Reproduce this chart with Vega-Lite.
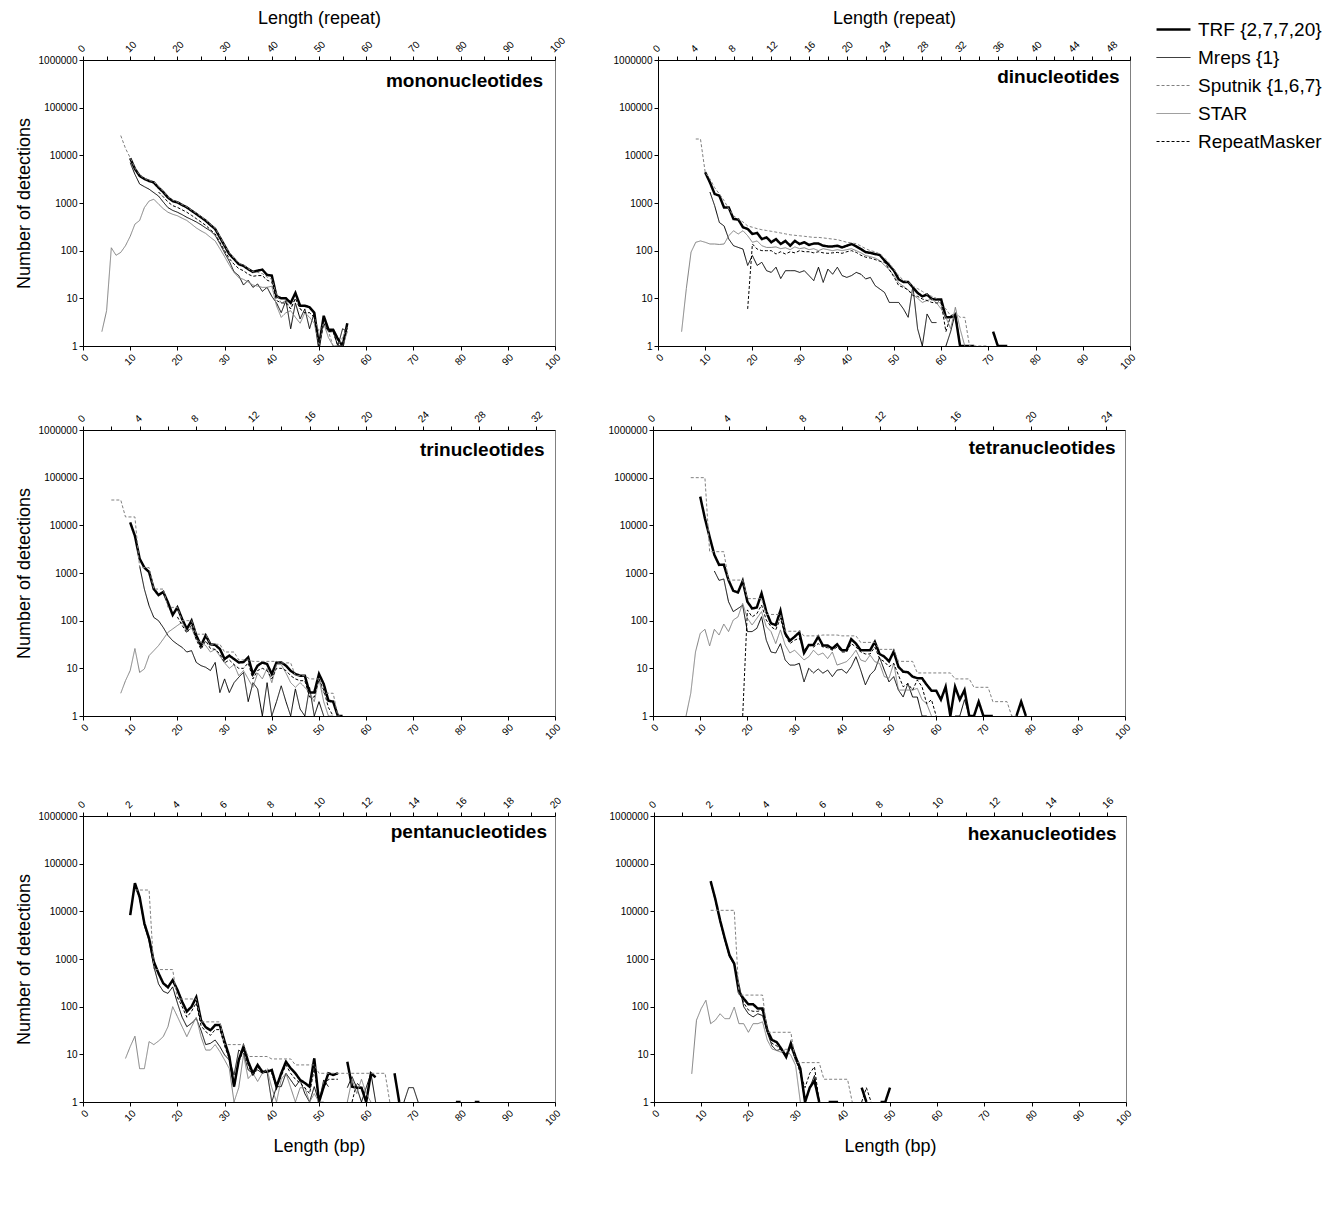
{
  "$schema": "https://vega.github.io/schema/vega-lite/v6.json",
  "background": "white",
  "padding": {"left": 14, "top": 8, "right": 5, "bottom": 5},
  "datasets": {
    "mono": [
      {"tool":"TRF","bp":10,"n":8700},{"tool":"TRF","bp":11,"n":5200},{"tool":"TRF","bp":12,"n":3700},{"tool":"TRF","bp":13,"n":3200},{"tool":"TRF","bp":14,"n":2900},{"tool":"TRF","bp":15,"n":2700},{"tool":"TRF","bp":16,"n":2100},{"tool":"TRF","bp":17,"n":1700},{"tool":"TRF","bp":18,"n":1300},{"tool":"TRF","bp":19,"n":1100},{"tool":"TRF","bp":20,"n":1030},{"tool":"TRF","bp":21,"n":910},{"tool":"TRF","bp":22,"n":810},{"tool":"TRF","bp":23,"n":690},{"tool":"TRF","bp":24,"n":590},{"tool":"TRF","bp":25,"n":500},{"tool":"TRF","bp":26,"n":425},{"tool":"TRF","bp":27,"n":345},{"tool":"TRF","bp":28,"n":285},{"tool":"TRF","bp":29,"n":190},{"tool":"TRF","bp":30,"n":127},{"tool":"TRF","bp":31,"n":85},{"tool":"TRF","bp":32,"n":67},{"tool":"TRF","bp":33,"n":52},{"tool":"TRF","bp":34,"n":48},{"tool":"TRF","bp":35,"n":41},{"tool":"TRF","bp":36,"n":36},{"tool":"TRF","bp":37,"n":38},{"tool":"TRF","bp":38,"n":40},{"tool":"TRF","bp":39,"n":31},{"tool":"TRF","bp":40,"n":30},{"tool":"TRF","bp":41,"n":11},{"tool":"TRF","bp":42,"n":10},{"tool":"TRF","bp":43,"n":10},{"tool":"TRF","bp":44,"n":8},{"tool":"TRF","bp":45,"n":13},{"tool":"TRF","bp":46,"n":7},{"tool":"TRF","bp":47,"n":7},{"tool":"TRF","bp":48,"n":6.5},{"tool":"TRF","bp":49,"n":5},{"tool":"TRF","bp":50,"n":1},{"tool":"TRF","bp":51,"n":4.3},{"tool":"TRF","bp":52,"n":2.2},{"tool":"TRF","bp":53,"n":2.2},{"tool":"TRF","bp":54,"n":1.4},{"tool":"TRF","bp":55,"n":1},{"tool":"TRF","bp":56,"n":3},
      {"tool":"Mreps","bp":10,"n":7000},{"tool":"Mreps","bp":11,"n":4000},{"tool":"Mreps","bp":12,"n":2500},{"tool":"Mreps","bp":13,"n":2200},{"tool":"Mreps","bp":14,"n":1950},{"tool":"Mreps","bp":15,"n":1650},{"tool":"Mreps","bp":16,"n":1400},{"tool":"Mreps","bp":17,"n":1050},{"tool":"Mreps","bp":18,"n":800},{"tool":"Mreps","bp":19,"n":700},{"tool":"Mreps","bp":20,"n":640},{"tool":"Mreps","bp":21,"n":570},{"tool":"Mreps","bp":22,"n":500},{"tool":"Mreps","bp":23,"n":450},{"tool":"Mreps","bp":24,"n":400},{"tool":"Mreps","bp":25,"n":350},{"tool":"Mreps","bp":26,"n":300},{"tool":"Mreps","bp":27,"n":260},{"tool":"Mreps","bp":28,"n":210},{"tool":"Mreps","bp":29,"n":140},{"tool":"Mreps","bp":30,"n":90},{"tool":"Mreps","bp":31,"n":60},{"tool":"Mreps","bp":32,"n":36},{"tool":"Mreps","bp":33,"n":30},{"tool":"Mreps","bp":34,"n":19},{"tool":"Mreps","bp":35,"n":24},{"tool":"Mreps","bp":36,"n":17},{"tool":"Mreps","bp":37,"n":20},{"tool":"Mreps","bp":38,"n":14},{"tool":"Mreps","bp":39,"n":17},{"tool":"Mreps","bp":40,"n":11},{"tool":"Mreps","bp":41,"n":8},{"tool":"Mreps","bp":42,"n":5},{"tool":"Mreps","bp":43,"n":9},{"tool":"Mreps","bp":44,"n":2.3},{"tool":"Mreps","bp":45,"n":8},{"tool":"Mreps","bp":46,"n":3.7},{"tool":"Mreps","bp":47,"n":6},{"tool":"Mreps","bp":48,"n":2.3},{"tool":"Mreps","bp":49,"n":5},{"tool":"Mreps","bp":50,"n":1},{"tool":"Mreps","bp":51,"n":4},{"tool":"Mreps","bp":52,"n":2},{"tool":"Mreps","bp":53,"n":2},{"tool":"Mreps","bp":54,"n":1},{"tool":"Mreps","bp":55,"n":2.3},{"tool":"Mreps","bp":56,"n":2},
      {"tool":"Sputnik","bp":8,"n":26000},{"tool":"Sputnik","bp":9,"n":14000},{"tool":"Sputnik","bp":10,"n":8900},{"tool":"Sputnik","bp":11,"n":5400},{"tool":"Sputnik","bp":12,"n":3900},{"tool":"Sputnik","bp":13,"n":3300},{"tool":"Sputnik","bp":14,"n":3000},{"tool":"Sputnik","bp":15,"n":2800},{"tool":"Sputnik","bp":16,"n":2200},{"tool":"Sputnik","bp":17,"n":1750},{"tool":"Sputnik","bp":18,"n":1350},{"tool":"Sputnik","bp":19,"n":1150},{"tool":"Sputnik","bp":20,"n":1050},{"tool":"Sputnik","bp":21,"n":930},{"tool":"Sputnik","bp":22,"n":830},{"tool":"Sputnik","bp":23,"n":710},{"tool":"Sputnik","bp":24,"n":610},{"tool":"Sputnik","bp":25,"n":520},{"tool":"Sputnik","bp":26,"n":440},{"tool":"Sputnik","bp":27,"n":355},{"tool":"Sputnik","bp":28,"n":295},{"tool":"Sputnik","bp":29,"n":200},{"tool":"Sputnik","bp":30,"n":130},{"tool":"Sputnik","bp":31,"n":90},{"tool":"Sputnik","bp":32,"n":70},{"tool":"Sputnik","bp":33,"n":55},{"tool":"Sputnik","bp":34,"n":50},{"tool":"Sputnik","bp":35,"n":42},{"tool":"Sputnik","bp":36,"n":36},{"tool":"Sputnik","bp":37,"n":35},{"tool":"Sputnik","bp":38,"n":33},{"tool":"Sputnik","bp":39,"n":28},{"tool":"Sputnik","bp":40,"n":25},{"tool":"Sputnik","bp":41,"n":12},{"tool":"Sputnik","bp":42,"n":8},{"tool":"Sputnik","bp":43,"n":9},{"tool":"Sputnik","bp":44,"n":6},{"tool":"Sputnik","bp":45,"n":10},{"tool":"Sputnik","bp":46,"n":6},{"tool":"Sputnik","bp":47,"n":5},{"tool":"Sputnik","bp":48,"n":5},{"tool":"Sputnik","bp":49,"n":4},{"tool":"Sputnik","bp":50,"n":2},{"tool":"Sputnik","bp":51,"n":3},{"tool":"Sputnik","bp":52,"n":2},{"tool":"Sputnik","bp":53,"n":1},{"tool":"Sputnik","bp":54,"n":1},{"tool":"Sputnik","bp":55,"n":1.5},{"tool":"Sputnik","bp":56,"n":2.5},
      {"tool":"STAR","bp":4,"n":2},{"tool":"STAR","bp":5,"n":5.5},{"tool":"STAR","bp":6,"n":115},{"tool":"STAR","bp":7,"n":80},{"tool":"STAR","bp":8,"n":92},{"tool":"STAR","bp":9,"n":127},{"tool":"STAR","bp":10,"n":200},{"tool":"STAR","bp":11,"n":360},{"tool":"STAR","bp":12,"n":430},{"tool":"STAR","bp":13,"n":800},{"tool":"STAR","bp":14,"n":1100},{"tool":"STAR","bp":15,"n":1200},{"tool":"STAR","bp":16,"n":950},{"tool":"STAR","bp":17,"n":760},{"tool":"STAR","bp":18,"n":640},{"tool":"STAR","bp":19,"n":580},{"tool":"STAR","bp":20,"n":540},{"tool":"STAR","bp":21,"n":480},{"tool":"STAR","bp":22,"n":430},{"tool":"STAR","bp":23,"n":360},{"tool":"STAR","bp":24,"n":300},{"tool":"STAR","bp":25,"n":260},{"tool":"STAR","bp":26,"n":230},{"tool":"STAR","bp":27,"n":190},{"tool":"STAR","bp":28,"n":160},{"tool":"STAR","bp":29,"n":110},{"tool":"STAR","bp":30,"n":75},{"tool":"STAR","bp":31,"n":50},{"tool":"STAR","bp":32,"n":35},{"tool":"STAR","bp":33,"n":27},{"tool":"STAR","bp":34,"n":25},{"tool":"STAR","bp":35,"n":22},{"tool":"STAR","bp":36,"n":19},{"tool":"STAR","bp":37,"n":18},{"tool":"STAR","bp":38,"n":17},{"tool":"STAR","bp":39,"n":17},{"tool":"STAR","bp":40,"n":18},{"tool":"STAR","bp":41,"n":7},{"tool":"STAR","bp":42,"n":4},{"tool":"STAR","bp":43,"n":5},{"tool":"STAR","bp":44,"n":5.5},{"tool":"STAR","bp":45,"n":4},{"tool":"STAR","bp":46,"n":3},{"tool":"STAR","bp":47,"n":5},{"tool":"STAR","bp":48,"n":4},{"tool":"STAR","bp":49,"n":3},{"tool":"STAR","bp":50,"n":1},{"tool":"STAR","bp":51,"n":3},{"tool":"STAR","bp":52,"n":1.5},{"tool":"STAR","bp":53,"n":1},{"tool":"STAR","bp":54,"n":1},{"tool":"STAR","bp":55,"n":1},{"tool":"STAR","bp":56,"n":2},
      {"tool":"RM","bp":16,"n":1700},{"tool":"RM","bp":17,"n":1350},{"tool":"RM","bp":18,"n":1050},{"tool":"RM","bp":19,"n":880},{"tool":"RM","bp":20,"n":810},{"tool":"RM","bp":21,"n":720},{"tool":"RM","bp":22,"n":640},{"tool":"RM","bp":23,"n":550},{"tool":"RM","bp":24,"n":470},{"tool":"RM","bp":25,"n":400},{"tool":"RM","bp":26,"n":340},{"tool":"RM","bp":27,"n":275},{"tool":"RM","bp":28,"n":225},{"tool":"RM","bp":29,"n":150},{"tool":"RM","bp":30,"n":100},{"tool":"RM","bp":31,"n":68},{"tool":"RM","bp":32,"n":52},{"tool":"RM","bp":33,"n":42},{"tool":"RM","bp":34,"n":38},{"tool":"RM","bp":35,"n":32},{"tool":"RM","bp":36,"n":29},{"tool":"RM","bp":37,"n":30},{"tool":"RM","bp":38,"n":30},{"tool":"RM","bp":39,"n":24},{"tool":"RM","bp":40,"n":22},{"tool":"RM","bp":41,"n":9},{"tool":"RM","bp":42,"n":8},{"tool":"RM","bp":43,"n":8},{"tool":"RM","bp":44,"n":6},{"tool":"RM","bp":45,"n":10},{"tool":"RM","bp":46,"n":6},{"tool":"RM","bp":47,"n":5},{"tool":"RM","bp":48,"n":5},{"tool":"RM","bp":49,"n":4},{"tool":"RM","bp":50,"n":1},{"tool":"RM","bp":51,"n":3},{"tool":"RM","bp":52,"n":2},{"tool":"RM","bp":53,"n":2},{"tool":"RM","bp":54,"n":1},{"tool":"RM","bp":55,"n":1},{"tool":"RM","bp":56,"n":2.5}
    ],
    "di": [
      {"tool":"TRF","bp":10,"n":4400},{"tool":"TRF","bp":11,"n":2700},{"tool":"TRF","bp":12,"n":1550},{"tool":"TRF","bp":13,"n":1420},{"tool":"TRF","bp":14,"n":800},{"tool":"TRF","bp":15,"n":800},{"tool":"TRF","bp":16,"n":460},{"tool":"TRF","bp":17,"n":450},{"tool":"TRF","bp":18,"n":310},{"tool":"TRF","bp":19,"n":285},{"tool":"TRF","bp":20,"n":224},{"tool":"TRF","bp":21,"n":235},{"tool":"TRF","bp":22,"n":175},{"tool":"TRF","bp":23,"n":190},{"tool":"TRF","bp":24,"n":150},{"tool":"TRF","bp":25,"n":175},{"tool":"TRF","bp":26,"n":138},{"tool":"TRF","bp":27,"n":160},{"tool":"TRF","bp":28,"n":127},{"tool":"TRF","bp":29,"n":160},{"tool":"TRF","bp":30,"n":138},{"tool":"TRF","bp":31,"n":150},{"tool":"TRF","bp":32,"n":132},{"tool":"TRF","bp":33,"n":141},{"tool":"TRF","bp":34,"n":141},{"tool":"TRF","bp":35,"n":127},{"tool":"TRF","bp":36,"n":123},{"tool":"TRF","bp":37,"n":123},{"tool":"TRF","bp":38,"n":127},{"tool":"TRF","bp":39,"n":117},{"tool":"TRF","bp":40,"n":127},{"tool":"TRF","bp":41,"n":138},{"tool":"TRF","bp":42,"n":123},{"tool":"TRF","bp":43,"n":108},{"tool":"TRF","bp":44,"n":93},{"tool":"TRF","bp":45,"n":90},{"tool":"TRF","bp":46,"n":85},{"tool":"TRF","bp":47,"n":81},{"tool":"TRF","bp":48,"n":62},{"tool":"TRF","bp":49,"n":49},{"tool":"TRF","bp":50,"n":38},{"tool":"TRF","bp":51,"n":25},{"tool":"TRF","bp":52,"n":22},{"tool":"TRF","bp":53,"n":22},{"tool":"TRF","bp":54,"n":17},{"tool":"TRF","bp":55,"n":13},{"tool":"TRF","bp":56,"n":11},{"tool":"TRF","bp":57,"n":12},{"tool":"TRF","bp":58,"n":9.7},{"tool":"TRF","bp":59,"n":9.4},{"tool":"TRF","bp":60,"n":9.4},{"tool":"TRF","bp":61,"n":4},{"tool":"TRF","bp":62,"n":4},{"tool":"TRF","bp":63,"n":4.3},{"tool":"TRF","bp":64,"n":1},{"tool":"TRF","bp":65,"n":1},{"tool":"TRF","bp":66,"n":1},{"tool":"TRF","bp":67,"n":1},{"tool":"TRF","bp":68,"n":null},{"tool":"TRF","bp":71,"n":2},{"tool":"TRF","bp":72,"n":1},{"tool":"TRF","bp":73,"n":1},{"tool":"TRF","bp":74,"n":1},
      {"tool":"Mreps","bp":11,"n":1700},{"tool":"Mreps","bp":12,"n":880},{"tool":"Mreps","bp":13,"n":390},{"tool":"Mreps","bp":14,"n":330},{"tool":"Mreps","bp":15,"n":175},{"tool":"Mreps","bp":16,"n":127},{"tool":"Mreps","bp":17,"n":117},{"tool":"Mreps","bp":18,"n":108},{"tool":"Mreps","bp":19,"n":49},{"tool":"Mreps","bp":20,"n":79},{"tool":"Mreps","bp":21,"n":49},{"tool":"Mreps","bp":22,"n":57},{"tool":"Mreps","bp":23,"n":38},{"tool":"Mreps","bp":24,"n":35},{"tool":"Mreps","bp":25,"n":45},{"tool":"Mreps","bp":26,"n":26},{"tool":"Mreps","bp":27,"n":38},{"tool":"Mreps","bp":28,"n":38},{"tool":"Mreps","bp":29,"n":38},{"tool":"Mreps","bp":30,"n":35},{"tool":"Mreps","bp":31,"n":38},{"tool":"Mreps","bp":32,"n":30},{"tool":"Mreps","bp":33,"n":23.5},{"tool":"Mreps","bp":34,"n":45},{"tool":"Mreps","bp":35,"n":21.6},{"tool":"Mreps","bp":36,"n":41},{"tool":"Mreps","bp":37,"n":32},{"tool":"Mreps","bp":38,"n":45},{"tool":"Mreps","bp":39,"n":30},{"tool":"Mreps","bp":40,"n":27.5},{"tool":"Mreps","bp":41,"n":30},{"tool":"Mreps","bp":42,"n":35},{"tool":"Mreps","bp":43,"n":32},{"tool":"Mreps","bp":44,"n":25.5},{"tool":"Mreps","bp":45,"n":27.5},{"tool":"Mreps","bp":46,"n":18.5},{"tool":"Mreps","bp":47,"n":15.7},{"tool":"Mreps","bp":48,"n":13.3},{"tool":"Mreps","bp":49,"n":8.2},{"tool":"Mreps","bp":50,"n":8.2},{"tool":"Mreps","bp":51,"n":8.2},{"tool":"Mreps","bp":52,"n":6},{"tool":"Mreps","bp":53,"n":4},{"tool":"Mreps","bp":54,"n":18},{"tool":"Mreps","bp":55,"n":2.3},{"tool":"Mreps","bp":56,"n":1},{"tool":"Mreps","bp":57,"n":4.7},{"tool":"Mreps","bp":58,"n":3.1},{"tool":"Mreps","bp":59,"n":3.1},{"tool":"Mreps","bp":60,"n":null},{"tool":"Mreps","bp":61,"n":1},{"tool":"Mreps","bp":62,"n":2},{"tool":"Mreps","bp":63,"n":5},{"tool":"Mreps","bp":64,"n":1},
      {"tool":"Sputnik","bp":8,"n":22000},{"tool":"Sputnik","bp":9,"n":22000},{"tool":"Sputnik","bp":10,"n":4400},{"tool":"Sputnik","bp":11,"n":3200},{"tool":"Sputnik","bp":12,"n":2100},{"tool":"Sputnik","bp":13,"n":1550},{"tool":"Sputnik","bp":14,"n":1120},{"tool":"Sputnik","bp":15,"n":750},{"tool":"Sputnik","bp":16,"n":540},{"tool":"Sputnik","bp":17,"n":460},{"tool":"Sputnik","bp":18,"n":400},{"tool":"Sputnik","bp":19,"n":330},{"tool":"Sputnik","bp":20,"n":310},{"tool":"Sputnik","bp":21,"n":290},{"tool":"Sputnik","bp":22,"n":275},{"tool":"Sputnik","bp":23,"n":265},{"tool":"Sputnik","bp":24,"n":255},{"tool":"Sputnik","bp":25,"n":245},{"tool":"Sputnik","bp":26,"n":235},{"tool":"Sputnik","bp":27,"n":225},{"tool":"Sputnik","bp":28,"n":215},{"tool":"Sputnik","bp":29,"n":210},{"tool":"Sputnik","bp":30,"n":205},{"tool":"Sputnik","bp":31,"n":200},{"tool":"Sputnik","bp":32,"n":195},{"tool":"Sputnik","bp":33,"n":190},{"tool":"Sputnik","bp":34,"n":190},{"tool":"Sputnik","bp":35,"n":185},{"tool":"Sputnik","bp":36,"n":180},{"tool":"Sputnik","bp":37,"n":175},{"tool":"Sputnik","bp":38,"n":170},{"tool":"Sputnik","bp":39,"n":160},{"tool":"Sputnik","bp":40,"n":150},{"tool":"Sputnik","bp":41,"n":145},{"tool":"Sputnik","bp":42,"n":140},{"tool":"Sputnik","bp":43,"n":125},{"tool":"Sputnik","bp":44,"n":110},{"tool":"Sputnik","bp":45,"n":100},{"tool":"Sputnik","bp":46,"n":95},{"tool":"Sputnik","bp":47,"n":85},{"tool":"Sputnik","bp":48,"n":70},{"tool":"Sputnik","bp":49,"n":55},{"tool":"Sputnik","bp":50,"n":40},{"tool":"Sputnik","bp":51,"n":30},{"tool":"Sputnik","bp":52,"n":24},{"tool":"Sputnik","bp":53,"n":22},{"tool":"Sputnik","bp":54,"n":18},{"tool":"Sputnik","bp":55,"n":16},{"tool":"Sputnik","bp":56,"n":14},{"tool":"Sputnik","bp":57,"n":12},{"tool":"Sputnik","bp":58,"n":11},{"tool":"Sputnik","bp":59,"n":10},{"tool":"Sputnik","bp":60,"n":7},{"tool":"Sputnik","bp":61,"n":6},{"tool":"Sputnik","bp":62,"n":4.3},{"tool":"Sputnik","bp":63,"n":5},{"tool":"Sputnik","bp":64,"n":4},{"tool":"Sputnik","bp":65,"n":4},{"tool":"Sputnik","bp":66,"n":1},{"tool":"Sputnik","bp":70,"n":1},
      {"tool":"STAR","bp":5,"n":2},{"tool":"STAR","bp":6,"n":16},{"tool":"STAR","bp":7,"n":93},{"tool":"STAR","bp":8,"n":150},{"tool":"STAR","bp":9,"n":160},{"tool":"STAR","bp":10,"n":150},{"tool":"STAR","bp":11,"n":138},{"tool":"STAR","bp":12,"n":138},{"tool":"STAR","bp":13,"n":135},{"tool":"STAR","bp":14,"n":138},{"tool":"STAR","bp":15,"n":206},{"tool":"STAR","bp":16,"n":262},{"tool":"STAR","bp":17,"n":224},{"tool":"STAR","bp":18,"n":262},{"tool":"STAR","bp":19,"n":206},{"tool":"STAR","bp":20,"n":150},{"tool":"STAR","bp":21,"n":160},{"tool":"STAR","bp":22,"n":127},{"tool":"STAR","bp":23,"n":117},{"tool":"STAR","bp":24,"n":117},{"tool":"STAR","bp":25,"n":120},{"tool":"STAR","bp":26,"n":110},{"tool":"STAR","bp":27,"n":115},{"tool":"STAR","bp":28,"n":105},{"tool":"STAR","bp":29,"n":120},{"tool":"STAR","bp":30,"n":110},{"tool":"STAR","bp":31,"n":115},{"tool":"STAR","bp":32,"n":105},{"tool":"STAR","bp":33,"n":110},{"tool":"STAR","bp":34,"n":100},{"tool":"STAR","bp":35,"n":110},{"tool":"STAR","bp":36,"n":105},{"tool":"STAR","bp":37,"n":100},{"tool":"STAR","bp":38,"n":105},{"tool":"STAR","bp":39,"n":100},{"tool":"STAR","bp":40,"n":105},{"tool":"STAR","bp":41,"n":110},{"tool":"STAR","bp":42,"n":100},{"tool":"STAR","bp":43,"n":90},{"tool":"STAR","bp":44,"n":79},{"tool":"STAR","bp":45,"n":75},{"tool":"STAR","bp":46,"n":70},{"tool":"STAR","bp":47,"n":62},{"tool":"STAR","bp":48,"n":49},{"tool":"STAR","bp":49,"n":40},{"tool":"STAR","bp":50,"n":30},{"tool":"STAR","bp":51,"n":21},{"tool":"STAR","bp":52,"n":18},{"tool":"STAR","bp":53,"n":15},{"tool":"STAR","bp":54,"n":12},{"tool":"STAR","bp":55,"n":10},{"tool":"STAR","bp":56,"n":8.2},{"tool":"STAR","bp":57,"n":9},{"tool":"STAR","bp":58,"n":9.7},{"tool":"STAR","bp":59,"n":8},{"tool":"STAR","bp":60,"n":6},{"tool":"STAR","bp":61,"n":4},{"tool":"STAR","bp":62,"n":2.3},{"tool":"STAR","bp":63,"n":6.5},{"tool":"STAR","bp":64,"n":2.3},{"tool":"STAR","bp":65,"n":1},
      {"tool":"RM","bp":19,"n":6},{"tool":"RM","bp":20,"n":138},{"tool":"RM","bp":21,"n":108},{"tool":"RM","bp":22,"n":100},{"tool":"RM","bp":23,"n":100},{"tool":"RM","bp":24,"n":100},{"tool":"RM","bp":25,"n":85},{"tool":"RM","bp":26,"n":95},{"tool":"RM","bp":27,"n":85},{"tool":"RM","bp":28,"n":95},{"tool":"RM","bp":29,"n":90},{"tool":"RM","bp":30,"n":100},{"tool":"RM","bp":31,"n":95},{"tool":"RM","bp":32,"n":95},{"tool":"RM","bp":33,"n":90},{"tool":"RM","bp":34,"n":95},{"tool":"RM","bp":35,"n":90},{"tool":"RM","bp":36,"n":88},{"tool":"RM","bp":37,"n":90},{"tool":"RM","bp":38,"n":92},{"tool":"RM","bp":39,"n":88},{"tool":"RM","bp":40,"n":95},{"tool":"RM","bp":41,"n":100},{"tool":"RM","bp":42,"n":92},{"tool":"RM","bp":43,"n":80},{"tool":"RM","bp":44,"n":73},{"tool":"RM","bp":45,"n":70},{"tool":"RM","bp":46,"n":65},{"tool":"RM","bp":47,"n":60},{"tool":"RM","bp":48,"n":57},{"tool":"RM","bp":49,"n":40},{"tool":"RM","bp":50,"n":28},{"tool":"RM","bp":51,"n":18.5},{"tool":"RM","bp":52,"n":17},{"tool":"RM","bp":53,"n":15},{"tool":"RM","bp":54,"n":11.4},{"tool":"RM","bp":55,"n":11},{"tool":"RM","bp":56,"n":9.7},{"tool":"RM","bp":57,"n":9},{"tool":"RM","bp":58,"n":8.2},{"tool":"RM","bp":59,"n":8},{"tool":"RM","bp":60,"n":8},{"tool":"RM","bp":61,"n":2},{"tool":"RM","bp":62,"n":4.3},{"tool":"RM","bp":63,"n":4.7},{"tool":"RM","bp":64,"n":1}
    ],
    "tri": [
      {"tool":"TRF","bp":10,"n":11500},{"tool":"TRF","bp":11,"n":6000},{"tool":"TRF","bp":12,"n":2000},{"tool":"TRF","bp":13,"n":1300},{"tool":"TRF","bp":14,"n":1050},{"tool":"TRF","bp":15,"n":460},{"tool":"TRF","bp":16,"n":345},{"tool":"TRF","bp":17,"n":400},{"tool":"TRF","bp":18,"n":240},{"tool":"TRF","bp":19,"n":132},{"tool":"TRF","bp":20,"n":190},{"tool":"TRF","bp":21,"n":108},{"tool":"TRF","bp":22,"n":67},{"tool":"TRF","bp":23,"n":100},{"tool":"TRF","bp":24,"n":49},{"tool":"TRF","bp":25,"n":30},{"tool":"TRF","bp":26,"n":49},{"tool":"TRF","bp":27,"n":32},{"tool":"TRF","bp":28,"n":31},{"tool":"TRF","bp":29,"n":25.5},{"tool":"TRF","bp":30,"n":15.7},{"tool":"TRF","bp":31,"n":18.5},{"tool":"TRF","bp":32,"n":15.7},{"tool":"TRF","bp":33,"n":13.3},{"tool":"TRF","bp":34,"n":13.5},{"tool":"TRF","bp":35,"n":17},{"tool":"TRF","bp":36,"n":7.6},{"tool":"TRF","bp":37,"n":11.4},{"tool":"TRF","bp":38,"n":13.3},{"tool":"TRF","bp":39,"n":12.3},{"tool":"TRF","bp":40,"n":7.6},{"tool":"TRF","bp":41,"n":13.3},{"tool":"TRF","bp":42,"n":13.3},{"tool":"TRF","bp":43,"n":11.4},{"tool":"TRF","bp":44,"n":8.9},{"tool":"TRF","bp":45,"n":7.6},{"tool":"TRF","bp":46,"n":7},{"tool":"TRF","bp":47,"n":7},{"tool":"TRF","bp":48,"n":3.1},{"tool":"TRF","bp":49,"n":3.1},{"tool":"TRF","bp":50,"n":7.6},{"tool":"TRF","bp":51,"n":4.7},{"tool":"TRF","bp":52,"n":2.1},{"tool":"TRF","bp":53,"n":2},{"tool":"TRF","bp":54,"n":1},{"tool":"TRF","bp":55,"n":1},
      {"tool":"Mreps","bp":12,"n":1400},{"tool":"Mreps","bp":13,"n":460},{"tool":"Mreps","bp":14,"n":205},{"tool":"Mreps","bp":15,"n":117},{"tool":"Mreps","bp":16,"n":100},{"tool":"Mreps","bp":17,"n":72},{"tool":"Mreps","bp":18,"n":49},{"tool":"Mreps","bp":19,"n":38},{"tool":"Mreps","bp":20,"n":32},{"tool":"Mreps","bp":21,"n":27.5},{"tool":"Mreps","bp":22,"n":22},{"tool":"Mreps","bp":23,"n":23.5},{"tool":"Mreps","bp":24,"n":13.3},{"tool":"Mreps","bp":25,"n":11.4},{"tool":"Mreps","bp":26,"n":10.5},{"tool":"Mreps","bp":27,"n":9},{"tool":"Mreps","bp":28,"n":13.3},{"tool":"Mreps","bp":29,"n":3.1},{"tool":"Mreps","bp":30,"n":6},{"tool":"Mreps","bp":31,"n":3.1},{"tool":"Mreps","bp":32,"n":5},{"tool":"Mreps","bp":33,"n":6.5},{"tool":"Mreps","bp":34,"n":8.2},{"tool":"Mreps","bp":35,"n":2},{"tool":"Mreps","bp":36,"n":5},{"tool":"Mreps","bp":37,"n":3.7},{"tool":"Mreps","bp":38,"n":1},{"tool":"Mreps","bp":39,"n":5},{"tool":"Mreps","bp":40,"n":1},{"tool":"Mreps","bp":41,"n":2},{"tool":"Mreps","bp":42,"n":4.3},{"tool":"Mreps","bp":43,"n":2},{"tool":"Mreps","bp":44,"n":1},{"tool":"Mreps","bp":45,"n":3.7},{"tool":"Mreps","bp":46,"n":1.4},{"tool":"Mreps","bp":47,"n":1},{"tool":"Mreps","bp":48,"n":4},{"tool":"Mreps","bp":49,"n":1},{"tool":"Mreps","bp":50,"n":2},{"tool":"Mreps","bp":51,"n":1},
      {"tool":"Sputnik","bp":6,"n":34000},{"tool":"Sputnik","bp":8,"n":34000},{"tool":"Sputnik","bp":9,"n":15000},{"tool":"Sputnik","bp":11,"n":15000},{"tool":"Sputnik","bp":12,"n":1300},{"tool":"Sputnik","bp":14,"n":1300},{"tool":"Sputnik","bp":15,"n":460},{"tool":"Sputnik","bp":17,"n":460},{"tool":"Sputnik","bp":18,"n":190},{"tool":"Sputnik","bp":20,"n":190},{"tool":"Sputnik","bp":21,"n":100},{"tool":"Sputnik","bp":23,"n":100},{"tool":"Sputnik","bp":24,"n":52},{"tool":"Sputnik","bp":26,"n":52},{"tool":"Sputnik","bp":27,"n":32},{"tool":"Sputnik","bp":29,"n":32},{"tool":"Sputnik","bp":30,"n":22},{"tool":"Sputnik","bp":32,"n":22},{"tool":"Sputnik","bp":33,"n":15},{"tool":"Sputnik","bp":35,"n":15},{"tool":"Sputnik","bp":36,"n":14},{"tool":"Sputnik","bp":41,"n":14},{"tool":"Sputnik","bp":42,"n":13},{"tool":"Sputnik","bp":44,"n":13},{"tool":"Sputnik","bp":45,"n":7},{"tool":"Sputnik","bp":47,"n":7},{"tool":"Sputnik","bp":48,"n":6},{"tool":"Sputnik","bp":50,"n":6},{"tool":"Sputnik","bp":51,"n":3},{"tool":"Sputnik","bp":53,"n":3},{"tool":"Sputnik","bp":54,"n":1},{"tool":"Sputnik","bp":55,"n":1},
      {"tool":"STAR","bp":8,"n":3},{"tool":"STAR","bp":9,"n":5.5},{"tool":"STAR","bp":10,"n":9},{"tool":"STAR","bp":11,"n":26},{"tool":"STAR","bp":12,"n":8.2},{"tool":"STAR","bp":13,"n":9.7},{"tool":"STAR","bp":14,"n":18.5},{"tool":"STAR","bp":15,"n":23.5},{"tool":"STAR","bp":16,"n":30},{"tool":"STAR","bp":17,"n":41},{"tool":"STAR","bp":18,"n":57},{"tool":"STAR","bp":19,"n":67},{"tool":"STAR","bp":20,"n":79},{"tool":"STAR","bp":21,"n":93},{"tool":"STAR","bp":22,"n":60},{"tool":"STAR","bp":23,"n":70},{"tool":"STAR","bp":24,"n":40},{"tool":"STAR","bp":25,"n":35},{"tool":"STAR","bp":26,"n":30},{"tool":"STAR","bp":27,"n":22},{"tool":"STAR","bp":28,"n":25},{"tool":"STAR","bp":29,"n":18},{"tool":"STAR","bp":30,"n":13},{"tool":"STAR","bp":31,"n":10},{"tool":"STAR","bp":32,"n":12},{"tool":"STAR","bp":33,"n":7},{"tool":"STAR","bp":34,"n":9},{"tool":"STAR","bp":35,"n":6},{"tool":"STAR","bp":36,"n":4},{"tool":"STAR","bp":37,"n":8},{"tool":"STAR","bp":38,"n":6},{"tool":"STAR","bp":39,"n":10},{"tool":"STAR","bp":40,"n":5},{"tool":"STAR","bp":41,"n":12},{"tool":"STAR","bp":42,"n":12},{"tool":"STAR","bp":43,"n":8},{"tool":"STAR","bp":44,"n":5},{"tool":"STAR","bp":45,"n":4},{"tool":"STAR","bp":46,"n":5},{"tool":"STAR","bp":47,"n":4},{"tool":"STAR","bp":48,"n":3},{"tool":"STAR","bp":49,"n":2},{"tool":"STAR","bp":50,"n":6},{"tool":"STAR","bp":51,"n":2},{"tool":"STAR","bp":52,"n":1},{"tool":"STAR","bp":53,"n":1},
      {"tool":"RM","bp":20,"n":120},{"tool":"RM","bp":21,"n":80},{"tool":"RM","bp":22,"n":55},{"tool":"RM","bp":23,"n":80},{"tool":"RM","bp":24,"n":40},{"tool":"RM","bp":25,"n":25},{"tool":"RM","bp":26,"n":38},{"tool":"RM","bp":27,"n":26},{"tool":"RM","bp":28,"n":25},{"tool":"RM","bp":29,"n":20},{"tool":"RM","bp":30,"n":13},{"tool":"RM","bp":31,"n":15},{"tool":"RM","bp":32,"n":12},{"tool":"RM","bp":33,"n":10},{"tool":"RM","bp":34,"n":10},{"tool":"RM","bp":35,"n":13},{"tool":"RM","bp":36,"n":6},{"tool":"RM","bp":37,"n":9},{"tool":"RM","bp":38,"n":10},{"tool":"RM","bp":39,"n":9},{"tool":"RM","bp":40,"n":6},{"tool":"RM","bp":41,"n":10},{"tool":"RM","bp":42,"n":10},{"tool":"RM","bp":43,"n":9},{"tool":"RM","bp":44,"n":7},{"tool":"RM","bp":45,"n":6},{"tool":"RM","bp":46,"n":5.5},{"tool":"RM","bp":47,"n":5.5},{"tool":"RM","bp":48,"n":2.5},{"tool":"RM","bp":49,"n":2.5},{"tool":"RM","bp":50,"n":6},{"tool":"RM","bp":51,"n":3.5},{"tool":"RM","bp":52,"n":1.5},{"tool":"RM","bp":53,"n":1}
    ],
    "tetra": [
      {"tool":"TRF","bp":10,"n":40000},{"tool":"TRF","bp":11,"n":14000},{"tool":"TRF","bp":12,"n":5700},{"tool":"TRF","bp":13,"n":2400},{"tool":"TRF","bp":14,"n":1480},{"tool":"TRF","bp":15,"n":1500},{"tool":"TRF","bp":16,"n":710},{"tool":"TRF","bp":17,"n":425},{"tool":"TRF","bp":18,"n":390},{"tool":"TRF","bp":19,"n":680},{"tool":"TRF","bp":20,"n":250},{"tool":"TRF","bp":21,"n":180},{"tool":"TRF","bp":22,"n":190},{"tool":"TRF","bp":23,"n":375},{"tool":"TRF","bp":24,"n":155},{"tool":"TRF","bp":25,"n":88},{"tool":"TRF","bp":26,"n":81},{"tool":"TRF","bp":27,"n":162},{"tool":"TRF","bp":28,"n":54},{"tool":"TRF","bp":29,"n":38},{"tool":"TRF","bp":30,"n":46},{"tool":"TRF","bp":31,"n":57},{"tool":"TRF","bp":32,"n":21},{"tool":"TRF","bp":33,"n":31},{"tool":"TRF","bp":34,"n":31},{"tool":"TRF","bp":35,"n":46},{"tool":"TRF","bp":36,"n":30},{"tool":"TRF","bp":37,"n":30},{"tool":"TRF","bp":38,"n":26},{"tool":"TRF","bp":39,"n":32},{"tool":"TRF","bp":40,"n":24},{"tool":"TRF","bp":41,"n":24},{"tool":"TRF","bp":42,"n":41},{"tool":"TRF","bp":43,"n":33},{"tool":"TRF","bp":44,"n":24},{"tool":"TRF","bp":45,"n":24},{"tool":"TRF","bp":46,"n":24},{"tool":"TRF","bp":47,"n":36},{"tool":"TRF","bp":48,"n":20},{"tool":"TRF","bp":49,"n":17.6},{"tool":"TRF","bp":50,"n":14},{"tool":"TRF","bp":51,"n":22.5},{"tool":"TRF","bp":52,"n":10.8},{"tool":"TRF","bp":53,"n":8.5},{"tool":"TRF","bp":54,"n":8.3},{"tool":"TRF","bp":55,"n":6.7},{"tool":"TRF","bp":56,"n":6.2},{"tool":"TRF","bp":57,"n":6.2},{"tool":"TRF","bp":58,"n":4.5},{"tool":"TRF","bp":59,"n":3.4},{"tool":"TRF","bp":60,"n":3.4},{"tool":"TRF","bp":61,"n":2.2},{"tool":"TRF","bp":62,"n":4.1},{"tool":"TRF","bp":63,"n":1},{"tool":"TRF","bp":64,"n":4.1},{"tool":"TRF","bp":65,"n":2.2},{"tool":"TRF","bp":66,"n":3.5},{"tool":"TRF","bp":67,"n":1},{"tool":"TRF","bp":68,"n":1},{"tool":"TRF","bp":69,"n":2},{"tool":"TRF","bp":70,"n":1},{"tool":"TRF","bp":71,"n":1},{"tool":"TRF","bp":72,"n":1},{"tool":"TRF","bp":73,"n":null},{"tool":"TRF","bp":77,"n":1},{"tool":"TRF","bp":78,"n":2},{"tool":"TRF","bp":79,"n":1},
      {"tool":"Mreps","bp":13,"n":1100},{"tool":"Mreps","bp":14,"n":700},{"tool":"Mreps","bp":15,"n":750},{"tool":"Mreps","bp":16,"n":250},{"tool":"Mreps","bp":17,"n":155},{"tool":"Mreps","bp":18,"n":180},{"tool":"Mreps","bp":19,"n":210},{"tool":"Mreps","bp":20,"n":59},{"tool":"Mreps","bp":21,"n":59},{"tool":"Mreps","bp":22,"n":69},{"tool":"Mreps","bp":23,"n":121},{"tool":"Mreps","bp":24,"n":39},{"tool":"Mreps","bp":25,"n":22},{"tool":"Mreps","bp":26,"n":21},{"tool":"Mreps","bp":27,"n":33},{"tool":"Mreps","bp":28,"n":15},{"tool":"Mreps","bp":29,"n":11.7},{"tool":"Mreps","bp":30,"n":11.7},{"tool":"Mreps","bp":31,"n":12.7},{"tool":"Mreps","bp":32,"n":5.2},{"tool":"Mreps","bp":33,"n":10},{"tool":"Mreps","bp":34,"n":8},{"tool":"Mreps","bp":35,"n":9.7},{"tool":"Mreps","bp":36,"n":7.9},{"tool":"Mreps","bp":37,"n":9.2},{"tool":"Mreps","bp":38,"n":6.7},{"tool":"Mreps","bp":39,"n":9.2},{"tool":"Mreps","bp":40,"n":9.5},{"tool":"Mreps","bp":41,"n":7.9},{"tool":"Mreps","bp":42,"n":10.8},{"tool":"Mreps","bp":43,"n":17.5},{"tool":"Mreps","bp":44,"n":9.2},{"tool":"Mreps","bp":45,"n":4.5},{"tool":"Mreps","bp":46,"n":7.3},{"tool":"Mreps","bp":47,"n":9.2},{"tool":"Mreps","bp":48,"n":17},{"tool":"Mreps","bp":49,"n":9.2},{"tool":"Mreps","bp":50,"n":5.2},{"tool":"Mreps","bp":51,"n":6.7},{"tool":"Mreps","bp":52,"n":3.5},{"tool":"Mreps","bp":53,"n":2.5},{"tool":"Mreps","bp":54,"n":4.8},{"tool":"Mreps","bp":55,"n":2.5},{"tool":"Mreps","bp":56,"n":2.5},{"tool":"Mreps","bp":57,"n":1},{"tool":"Mreps","bp":58,"n":1},{"tool":"Mreps","bp":59,"n":null},{"tool":"Mreps","bp":64,"n":1},{"tool":"Mreps","bp":65,"n":1},{"tool":"Mreps","bp":66,"n":2.2},{"tool":"Mreps","bp":67,"n":1},
      {"tool":"Sputnik","bp":8,"n":100000},{"tool":"Sputnik","bp":11,"n":100000},{"tool":"Sputnik","bp":12,"n":2800},{"tool":"Sputnik","bp":15,"n":2800},{"tool":"Sputnik","bp":16,"n":710},{"tool":"Sputnik","bp":19,"n":710},{"tool":"Sputnik","bp":20,"n":290},{"tool":"Sputnik","bp":23,"n":290},{"tool":"Sputnik","bp":24,"n":135},{"tool":"Sputnik","bp":27,"n":135},{"tool":"Sputnik","bp":28,"n":60},{"tool":"Sputnik","bp":31,"n":60},{"tool":"Sputnik","bp":32,"n":48},{"tool":"Sputnik","bp":35,"n":48},{"tool":"Sputnik","bp":36,"n":50},{"tool":"Sputnik","bp":39,"n":50},{"tool":"Sputnik","bp":40,"n":48},{"tool":"Sputnik","bp":43,"n":48},{"tool":"Sputnik","bp":44,"n":35},{"tool":"Sputnik","bp":47,"n":35},{"tool":"Sputnik","bp":48,"n":25},{"tool":"Sputnik","bp":51,"n":25},{"tool":"Sputnik","bp":52,"n":14},{"tool":"Sputnik","bp":55,"n":14},{"tool":"Sputnik","bp":56,"n":8},{"tool":"Sputnik","bp":63,"n":8},{"tool":"Sputnik","bp":64,"n":6},{"tool":"Sputnik","bp":67,"n":6},{"tool":"Sputnik","bp":68,"n":4},{"tool":"Sputnik","bp":71,"n":4},{"tool":"Sputnik","bp":72,"n":2},{"tool":"Sputnik","bp":75,"n":2},{"tool":"Sputnik","bp":76,"n":1},{"tool":"Sputnik","bp":77,"n":1},
      {"tool":"STAR","bp":7,"n":1},{"tool":"STAR","bp":8,"n":3},{"tool":"STAR","bp":9,"n":22},{"tool":"STAR","bp":10,"n":54},{"tool":"STAR","bp":11,"n":66},{"tool":"STAR","bp":12,"n":29.5},{"tool":"STAR","bp":13,"n":66},{"tool":"STAR","bp":14,"n":50},{"tool":"STAR","bp":15,"n":85},{"tool":"STAR","bp":16,"n":59},{"tool":"STAR","bp":17,"n":103},{"tool":"STAR","bp":18,"n":120},{"tool":"STAR","bp":19,"n":230},{"tool":"STAR","bp":20,"n":112},{"tool":"STAR","bp":21,"n":81},{"tool":"STAR","bp":22,"n":112},{"tool":"STAR","bp":23,"n":155},{"tool":"STAR","bp":24,"n":75},{"tool":"STAR","bp":25,"n":59},{"tool":"STAR","bp":26,"n":33},{"tool":"STAR","bp":27,"n":64},{"tool":"STAR","bp":28,"n":31},{"tool":"STAR","bp":29,"n":21},{"tool":"STAR","bp":30,"n":24},{"tool":"STAR","bp":31,"n":19},{"tool":"STAR","bp":32,"n":15},{"tool":"STAR","bp":33,"n":17.5},{"tool":"STAR","bp":34,"n":24},{"tool":"STAR","bp":35,"n":19},{"tool":"STAR","bp":36,"n":21},{"tool":"STAR","bp":37,"n":16},{"tool":"STAR","bp":38,"n":22},{"tool":"STAR","bp":39,"n":11.7},{"tool":"STAR","bp":40,"n":12.7},{"tool":"STAR","bp":41,"n":13.8},{"tool":"STAR","bp":42,"n":17.5},{"tool":"STAR","bp":43,"n":24},{"tool":"STAR","bp":44,"n":15},{"tool":"STAR","bp":45,"n":13.8},{"tool":"STAR","bp":46,"n":19},{"tool":"STAR","bp":47,"n":13.8},{"tool":"STAR","bp":48,"n":12.7},{"tool":"STAR","bp":49,"n":6.7},{"tool":"STAR","bp":50,"n":6.2},{"tool":"STAR","bp":51,"n":12.7},{"tool":"STAR","bp":52,"n":3.5},{"tool":"STAR","bp":53,"n":3.5},{"tool":"STAR","bp":54,"n":3.5},{"tool":"STAR","bp":55,"n":3.5},{"tool":"STAR","bp":56,"n":3.8},{"tool":"STAR","bp":57,"n":2.2},{"tool":"STAR","bp":58,"n":1.8},{"tool":"STAR","bp":59,"n":1},
      {"tool":"RM","bp":19,"n":1},{"tool":"RM","bp":20,"n":168},{"tool":"RM","bp":21,"n":120},{"tool":"RM","bp":22,"n":140},{"tool":"RM","bp":23,"n":213},{"tool":"RM","bp":24,"n":103},{"tool":"RM","bp":25,"n":75},{"tool":"RM","bp":26,"n":64},{"tool":"RM","bp":27,"n":112},{"tool":"RM","bp":28,"n":50},{"tool":"RM","bp":29,"n":33},{"tool":"RM","bp":30,"n":39},{"tool":"RM","bp":31,"n":43},{"tool":"RM","bp":32,"n":24},{"tool":"RM","bp":33,"n":31},{"tool":"RM","bp":34,"n":28},{"tool":"RM","bp":35,"n":33},{"tool":"RM","bp":36,"n":28},{"tool":"RM","bp":37,"n":27},{"tool":"RM","bp":38,"n":24},{"tool":"RM","bp":39,"n":28},{"tool":"RM","bp":40,"n":22},{"tool":"RM","bp":41,"n":22},{"tool":"RM","bp":42,"n":33},{"tool":"RM","bp":43,"n":28},{"tool":"RM","bp":44,"n":22},{"tool":"RM","bp":45,"n":20},{"tool":"RM","bp":46,"n":20},{"tool":"RM","bp":47,"n":28},{"tool":"RM","bp":48,"n":16},{"tool":"RM","bp":49,"n":13.8},{"tool":"RM","bp":50,"n":10.8},{"tool":"RM","bp":51,"n":12.7},{"tool":"RM","bp":52,"n":7.2},{"tool":"RM","bp":53,"n":4.1},{"tool":"RM","bp":54,"n":4.8},{"tool":"RM","bp":55,"n":3.5},{"tool":"RM","bp":56,"n":5.7},{"tool":"RM","bp":57,"n":4.1},{"tool":"RM","bp":58,"n":1.8},{"tool":"RM","bp":59,"n":2.2},{"tool":"RM","bp":60,"n":1}
    ],
    "penta": [
      {"tool":"TRF","bp":10,"n":8300},{"tool":"TRF","bp":11,"n":39000},{"tool":"TRF","bp":12,"n":20000},{"tool":"TRF","bp":13,"n":5600},{"tool":"TRF","bp":14,"n":2700},{"tool":"TRF","bp":15,"n":880},{"tool":"TRF","bp":16,"n":500},{"tool":"TRF","bp":17,"n":310},{"tool":"TRF","bp":18,"n":255},{"tool":"TRF","bp":19,"n":360},{"tool":"TRF","bp":20,"n":225},{"tool":"TRF","bp":21,"n":127},{"tool":"TRF","bp":22,"n":79},{"tool":"TRF","bp":23,"n":100},{"tool":"TRF","bp":24,"n":158},{"tool":"TRF","bp":25,"n":52},{"tool":"TRF","bp":26,"n":37},{"tool":"TRF","bp":27,"n":32},{"tool":"TRF","bp":28,"n":41},{"tool":"TRF","bp":29,"n":41},{"tool":"TRF","bp":30,"n":18.5},{"tool":"TRF","bp":31,"n":9},{"tool":"TRF","bp":32,"n":2.1},{"tool":"TRF","bp":33,"n":7.6},{"tool":"TRF","bp":34,"n":14.5},{"tool":"TRF","bp":35,"n":7},{"tool":"TRF","bp":36,"n":4},{"tool":"TRF","bp":37,"n":6},{"tool":"TRF","bp":38,"n":4.3},{"tool":"TRF","bp":39,"n":4.3},{"tool":"TRF","bp":40,"n":4.7},{"tool":"TRF","bp":41,"n":2.1},{"tool":"TRF","bp":42,"n":4},{"tool":"TRF","bp":43,"n":7},{"tool":"TRF","bp":44,"n":5.1},{"tool":"TRF","bp":45,"n":4},{"tool":"TRF","bp":46,"n":2.9},{"tool":"TRF","bp":47,"n":2.5},{"tool":"TRF","bp":48,"n":2.1},{"tool":"TRF","bp":49,"n":8.2},{"tool":"TRF","bp":50,"n":1},{"tool":"TRF","bp":51,"n":2.1},{"tool":"TRF","bp":52,"n":4},{"tool":"TRF","bp":53,"n":3.7},{"tool":"TRF","bp":54,"n":4},{"tool":"TRF","bp":55,"n":null},{"tool":"TRF","bp":56,"n":7},{"tool":"TRF","bp":57,"n":2.1},{"tool":"TRF","bp":58,"n":2},{"tool":"TRF","bp":59,"n":2},{"tool":"TRF","bp":60,"n":1},{"tool":"TRF","bp":61,"n":4},{"tool":"TRF","bp":62,"n":3.3},{"tool":"TRF","bp":63,"n":null},{"tool":"TRF","bp":66,"n":4},{"tool":"TRF","bp":67,"n":1},{"tool":"TRF","bp":68,"n":null},{"tool":"TRF","bp":79,"n":1},{"tool":"TRF","bp":80,"n":1},{"tool":"TRF","bp":81,"n":null},{"tool":"TRF","bp":83,"n":1},{"tool":"TRF","bp":84,"n":1},
      {"tool":"Mreps","bp":11,"n":35000},{"tool":"Mreps","bp":12,"n":19000},{"tool":"Mreps","bp":13,"n":5000},{"tool":"Mreps","bp":14,"n":2400},{"tool":"Mreps","bp":15,"n":700},{"tool":"Mreps","bp":16,"n":300},{"tool":"Mreps","bp":17,"n":210},{"tool":"Mreps","bp":18,"n":190},{"tool":"Mreps","bp":19,"n":260},{"tool":"Mreps","bp":20,"n":120},{"tool":"Mreps","bp":21,"n":60},{"tool":"Mreps","bp":22,"n":38},{"tool":"Mreps","bp":23,"n":45},{"tool":"Mreps","bp":24,"n":57},{"tool":"Mreps","bp":25,"n":32},{"tool":"Mreps","bp":26,"n":16},{"tool":"Mreps","bp":27,"n":17},{"tool":"Mreps","bp":28,"n":20},{"tool":"Mreps","bp":29,"n":14.5},{"tool":"Mreps","bp":30,"n":9.7},{"tool":"Mreps","bp":31,"n":7.6},{"tool":"Mreps","bp":32,"n":3.7},{"tool":"Mreps","bp":33,"n":12.3},{"tool":"Mreps","bp":34,"n":10.5},{"tool":"Mreps","bp":35,"n":4.7},{"tool":"Mreps","bp":36,"n":4},{"tool":"Mreps","bp":37,"n":4.7},{"tool":"Mreps","bp":38,"n":4},{"tool":"Mreps","bp":39,"n":4.3},{"tool":"Mreps","bp":40,"n":1},{"tool":"Mreps","bp":41,"n":2.1},{"tool":"Mreps","bp":42,"n":2.1},{"tool":"Mreps","bp":43,"n":4},{"tool":"Mreps","bp":44,"n":2.9},{"tool":"Mreps","bp":45,"n":2.1},{"tool":"Mreps","bp":46,"n":2.9},{"tool":"Mreps","bp":47,"n":1.5},{"tool":"Mreps","bp":48,"n":1},{"tool":"Mreps","bp":49,"n":2.1},{"tool":"Mreps","bp":50,"n":1},{"tool":"Mreps","bp":51,"n":2.9},{"tool":"Mreps","bp":52,"n":2.1},{"tool":"Mreps","bp":53,"n":null},{"tool":"Mreps","bp":56,"n":2},{"tool":"Mreps","bp":57,"n":3.4},{"tool":"Mreps","bp":58,"n":2},{"tool":"Mreps","bp":59,"n":1},{"tool":"Mreps","bp":60,"n":2},{"tool":"Mreps","bp":61,"n":4},{"tool":"Mreps","bp":62,"n":1},{"tool":"Mreps","bp":63,"n":null},{"tool":"Mreps","bp":68,"n":1},{"tool":"Mreps","bp":69,"n":2},{"tool":"Mreps","bp":70,"n":2},{"tool":"Mreps","bp":71,"n":1},
      {"tool":"Sputnik","bp":11,"n":28000},{"tool":"Sputnik","bp":14,"n":28000},{"tool":"Sputnik","bp":15,"n":600},{"tool":"Sputnik","bp":19,"n":600},{"tool":"Sputnik","bp":20,"n":145},{"tool":"Sputnik","bp":24,"n":145},{"tool":"Sputnik","bp":25,"n":48},{"tool":"Sputnik","bp":29,"n":48},{"tool":"Sputnik","bp":30,"n":16},{"tool":"Sputnik","bp":34,"n":16},{"tool":"Sputnik","bp":35,"n":9},{"tool":"Sputnik","bp":39,"n":9},{"tool":"Sputnik","bp":40,"n":8},{"tool":"Sputnik","bp":44,"n":8},{"tool":"Sputnik","bp":45,"n":6},{"tool":"Sputnik","bp":49,"n":6},{"tool":"Sputnik","bp":50,"n":4},{"tool":"Sputnik","bp":64,"n":4},{"tool":"Sputnik","bp":65,"n":1},
      {"tool":"STAR","bp":9,"n":8.2},{"tool":"STAR","bp":10,"n":14.5},{"tool":"STAR","bp":11,"n":24},{"tool":"STAR","bp":12,"n":5},{"tool":"STAR","bp":13,"n":5},{"tool":"STAR","bp":14,"n":18.5},{"tool":"STAR","bp":15,"n":16},{"tool":"STAR","bp":16,"n":19},{"tool":"STAR","bp":17,"n":23.5},{"tool":"STAR","bp":18,"n":38},{"tool":"STAR","bp":19,"n":100},{"tool":"STAR","bp":20,"n":62},{"tool":"STAR","bp":21,"n":38},{"tool":"STAR","bp":22,"n":23.5},{"tool":"STAR","bp":23,"n":38},{"tool":"STAR","bp":24,"n":60},{"tool":"STAR","bp":25,"n":23.5},{"tool":"STAR","bp":26,"n":12.3},{"tool":"STAR","bp":27,"n":12.3},{"tool":"STAR","bp":28,"n":16},{"tool":"STAR","bp":29,"n":11.4},{"tool":"STAR","bp":30,"n":7.6},{"tool":"STAR","bp":31,"n":5},{"tool":"STAR","bp":32,"n":1},{"tool":"STAR","bp":33,"n":2},{"tool":"STAR","bp":34,"n":9.7},{"tool":"STAR","bp":35,"n":3.1},{"tool":"STAR","bp":36,"n":4},{"tool":"STAR","bp":37,"n":2.7},{"tool":"STAR","bp":38,"n":4},{"tool":"STAR","bp":39,"n":4.7},{"tool":"STAR","bp":40,"n":2},{"tool":"STAR","bp":41,"n":1},{"tool":"STAR","bp":42,"n":3},{"tool":"STAR","bp":43,"n":4},{"tool":"STAR","bp":44,"n":2},{"tool":"STAR","bp":45,"n":1},{"tool":"STAR","bp":46,"n":2},{"tool":"STAR","bp":47,"n":2},{"tool":"STAR","bp":48,"n":1},{"tool":"STAR","bp":49,"n":1.5},{"tool":"STAR","bp":50,"n":1},{"tool":"STAR","bp":51,"n":1},{"tool":"STAR","bp":52,"n":null},{"tool":"STAR","bp":56,"n":1},{"tool":"STAR","bp":57,"n":3},{"tool":"STAR","bp":58,"n":1.5},{"tool":"STAR","bp":59,"n":3},{"tool":"STAR","bp":60,"n":1.5},{"tool":"STAR","bp":61,"n":1},
      {"tool":"RM","bp":20,"n":160},{"tool":"RM","bp":21,"n":100},{"tool":"RM","bp":22,"n":60},{"tool":"RM","bp":23,"n":80},{"tool":"RM","bp":24,"n":120},{"tool":"RM","bp":25,"n":40},{"tool":"RM","bp":26,"n":30},{"tool":"RM","bp":27,"n":25},{"tool":"RM","bp":28,"n":33},{"tool":"RM","bp":29,"n":33},{"tool":"RM","bp":30,"n":15},{"tool":"RM","bp":31,"n":8},{"tool":"RM","bp":32,"n":2},{"tool":"RM","bp":33,"n":7},{"tool":"RM","bp":34,"n":12},{"tool":"RM","bp":35,"n":6},{"tool":"RM","bp":36,"n":3.5},{"tool":"RM","bp":37,"n":5.5},{"tool":"RM","bp":38,"n":4},{"tool":"RM","bp":39,"n":5},{"tool":"RM","bp":40,"n":4},{"tool":"RM","bp":41,"n":2},{"tool":"RM","bp":42,"n":3.5},{"tool":"RM","bp":43,"n":6},{"tool":"RM","bp":44,"n":4},{"tool":"RM","bp":45,"n":3},{"tool":"RM","bp":46,"n":2.5},{"tool":"RM","bp":47,"n":2},{"tool":"RM","bp":48,"n":1.5},{"tool":"RM","bp":49,"n":5},{"tool":"RM","bp":50,"n":1},{"tool":"RM","bp":51,"n":2},{"tool":"RM","bp":52,"n":3},{"tool":"RM","bp":53,"n":3},{"tool":"RM","bp":54,"n":3},{"tool":"RM","bp":55,"n":null},{"tool":"RM","bp":57,"n":1},{"tool":"RM","bp":58,"n":2.5},{"tool":"RM","bp":59,"n":2},{"tool":"RM","bp":60,"n":1}
    ],
    "hexa": [
      {"tool":"TRF","bp":12,"n":43000},{"tool":"TRF","bp":13,"n":18000},{"tool":"TRF","bp":14,"n":6500},{"tool":"TRF","bp":15,"n":2700},{"tool":"TRF","bp":16,"n":1200},{"tool":"TRF","bp":17,"n":800},{"tool":"TRF","bp":18,"n":200},{"tool":"TRF","bp":19,"n":147},{"tool":"TRF","bp":20,"n":112},{"tool":"TRF","bp":21,"n":112},{"tool":"TRF","bp":22,"n":91},{"tool":"TRF","bp":23,"n":91},{"tool":"TRF","bp":24,"n":32},{"tool":"TRF","bp":25,"n":20},{"tool":"TRF","bp":26,"n":18},{"tool":"TRF","bp":27,"n":13},{"tool":"TRF","bp":28,"n":8.8},{"tool":"TRF","bp":29,"n":17},{"tool":"TRF","bp":30,"n":8.8},{"tool":"TRF","bp":31,"n":5},{"tool":"TRF","bp":32,"n":1},{"tool":"TRF","bp":33,"n":2},{"tool":"TRF","bp":34,"n":2.8},{"tool":"TRF","bp":35,"n":1},{"tool":"TRF","bp":36,"n":null},{"tool":"TRF","bp":37,"n":1},{"tool":"TRF","bp":38,"n":1},{"tool":"TRF","bp":39,"n":1},{"tool":"TRF","bp":40,"n":null},{"tool":"TRF","bp":44,"n":2},{"tool":"TRF","bp":45,"n":1},{"tool":"TRF","bp":46,"n":null},{"tool":"TRF","bp":48,"n":1},{"tool":"TRF","bp":49,"n":1},{"tool":"TRF","bp":50,"n":2},
      {"tool":"Mreps","bp":12,"n":40000},{"tool":"Mreps","bp":13,"n":17000},{"tool":"Mreps","bp":14,"n":6000},{"tool":"Mreps","bp":15,"n":2500},{"tool":"Mreps","bp":16,"n":1100},{"tool":"Mreps","bp":17,"n":750},{"tool":"Mreps","bp":18,"n":300},{"tool":"Mreps","bp":19,"n":100},{"tool":"Mreps","bp":20,"n":71},{"tool":"Mreps","bp":21,"n":61},{"tool":"Mreps","bp":22,"n":71},{"tool":"Mreps","bp":23,"n":65},{"tool":"Mreps","bp":24,"n":29},{"tool":"Mreps","bp":25,"n":15},{"tool":"Mreps","bp":26,"n":12},{"tool":"Mreps","bp":27,"n":13},{"tool":"Mreps","bp":28,"n":10},{"tool":"Mreps","bp":29,"n":14},{"tool":"Mreps","bp":30,"n":7.5},{"tool":"Mreps","bp":31,"n":4.6},{"tool":"Mreps","bp":32,"n":1},{"tool":"Mreps","bp":33,"n":2},{"tool":"Mreps","bp":34,"n":3.6},{"tool":"Mreps","bp":35,"n":1},
      {"tool":"Sputnik","bp":12,"n":10500},{"tool":"Sputnik","bp":17,"n":10500},{"tool":"Sputnik","bp":18,"n":175},{"tool":"Sputnik","bp":23,"n":175},{"tool":"Sputnik","bp":24,"n":29},{"tool":"Sputnik","bp":29,"n":29},{"tool":"Sputnik","bp":30,"n":6.7},{"tool":"Sputnik","bp":35,"n":6.7},{"tool":"Sputnik","bp":36,"n":3},{"tool":"Sputnik","bp":41,"n":3},{"tool":"Sputnik","bp":42,"n":1},
      {"tool":"STAR","bp":8,"n":3.9},{"tool":"STAR","bp":9,"n":52},{"tool":"STAR","bp":10,"n":91},{"tool":"STAR","bp":11,"n":136},{"tool":"STAR","bp":12,"n":44},{"tool":"STAR","bp":13,"n":52},{"tool":"STAR","bp":14,"n":71},{"tool":"STAR","bp":15,"n":56},{"tool":"STAR","bp":16,"n":56},{"tool":"STAR","bp":17,"n":98},{"tool":"STAR","bp":18,"n":44},{"tool":"STAR","bp":19,"n":44},{"tool":"STAR","bp":20,"n":29},{"tool":"STAR","bp":21,"n":44},{"tool":"STAR","bp":22,"n":44},{"tool":"STAR","bp":23,"n":48},{"tool":"STAR","bp":24,"n":20},{"tool":"STAR","bp":25,"n":13},{"tool":"STAR","bp":26,"n":12},{"tool":"STAR","bp":27,"n":11},{"tool":"STAR","bp":28,"n":13},{"tool":"STAR","bp":29,"n":9.5},{"tool":"STAR","bp":30,"n":5.9},{"tool":"STAR","bp":31,"n":1},
      {"tool":"RM","bp":18,"n":220},{"tool":"RM","bp":19,"n":120},{"tool":"RM","bp":20,"n":85},{"tool":"RM","bp":21,"n":80},{"tool":"RM","bp":22,"n":80},{"tool":"RM","bp":23,"n":85},{"tool":"RM","bp":24,"n":30},{"tool":"RM","bp":25,"n":17},{"tool":"RM","bp":26,"n":15},{"tool":"RM","bp":27,"n":12},{"tool":"RM","bp":28,"n":9},{"tool":"RM","bp":29,"n":15},{"tool":"RM","bp":30,"n":8},{"tool":"RM","bp":31,"n":4},{"tool":"RM","bp":32,"n":2},{"tool":"RM","bp":33,"n":4},{"tool":"RM","bp":34,"n":5.5},{"tool":"RM","bp":35,"n":1},{"tool":"RM","bp":36,"n":null},{"tool":"RM","bp":44,"n":1},{"tool":"RM","bp":45,"n":2},{"tool":"RM","bp":46,"n":1}
    ]
  },
  "vconcat": [
    {
      "vconcat": [
        {
          "hconcat": [
            {
              "width": 472, "height": 286,
              "layer": [
                {"layer": [
                  {"data": {"name": "mono"}, "mark": {"type": "line", "clip": true, "invalid": "break-paths-filter-domains"},
                   "encoding": {
                     "x": {"field": "bp", "type": "quantitative", "scale": {"domain": [0, 100], "nice": false}, "axis": {"values": [0,5,10,15,20,25,30,35,40,45,50,55,60,65,70,75,80,85,90,95,100], "labelExpr": "datum.value % 10 === 0 ? datum.label : ''", "title": null}},
                     "y": {"field": "n", "type": "quantitative", "scale": {"type": "log", "domain": [1, 1000000]}, "axis": {"values": [1,10,100,1000,10000,100000,1000000], "format": "d", "title": "Number of detections"}},
                     "color": {"field": "tool", "type": "nominal", "scale": {"domain": ["TRF","Mreps","Sputnik","STAR","RM"], "range": ["#000000","#000000","#808080","#808080","#000000"]}, "legend": {"title": null, "labelExpr": "datum.label === 'TRF' ? 'TRF {2,7,7,20}' : datum.label === 'Mreps' ? 'Mreps {1}' : datum.label === 'Sputnik' ? 'Sputnik {1,6,7}' : datum.label === 'RM' ? 'RepeatMasker' : datum.label"}},
                     "strokeDash": {"field": "tool", "type": "nominal", "scale": {"domain": ["TRF","Mreps","Sputnik","STAR","RM"], "range": [[1,0],[1,0],[3,2],[1,0],[3,2]]}, "legend": {"title": null, "labelExpr": "datum.label === 'TRF' ? 'TRF {2,7,7,20}' : datum.label === 'Mreps' ? 'Mreps {1}' : datum.label === 'Sputnik' ? 'Sputnik {1,6,7}' : datum.label === 'RM' ? 'RepeatMasker' : datum.label"}},
                     "strokeWidth": {"field": "tool", "type": "nominal", "scale": {"type": "ordinal", "domain": ["TRF","Mreps","Sputnik","STAR","RM"], "range": [2.5,1,1,1,1]}, "legend": {"title": null, "labelExpr": "datum.label === 'TRF' ? 'TRF {2,7,7,20}' : datum.label === 'Mreps' ? 'Mreps {1}' : datum.label === 'Sputnik' ? 'Sputnik {1,6,7}' : datum.label === 'RM' ? 'RepeatMasker' : datum.label"}}
                   }},
                  {"data": {"values": [{"label": "mononucleotides"}]}, "mark": {"type": "text", "align": "right", "baseline": "middle", "fontSize": 19, "fontWeight": "bold"},
                   "encoding": {"x": {"datum": 97.5}, "y": {"datum": 363000}, "text": {"field": "label"}}}
                ]},
                {"data": {"values": [{"rep": 0}, {"rep": 100}]}, "mark": {"type": "point", "opacity": 0},
                 "encoding": {"x": {"field": "rep", "type": "quantitative", "scale": {"domain": [0, 100], "nice": false}, "axis": {"orient": "top", "values": [0,5,10,15,20,25,30,35,40,45,50,55,60,65,70,75,80,85,90,95,100], "labelExpr": "datum.value % 10 === 0 ? datum.label : ''", "title": "Length (repeat)", "titlePadding": 8}}}}
              ],
              "resolve": {"scale": {"x": "independent"}}
            },
            {
              "width": 472, "height": 286,
              "layer": [
                {"layer": [
                  {"data": {"name": "di"}, "mark": {"type": "line", "clip": true, "invalid": "break-paths-filter-domains"},
                   "encoding": {
                     "x": {"field": "bp", "type": "quantitative", "scale": {"domain": [0, 100], "nice": false}, "axis": {"values": [0,5,10,15,20,25,30,35,40,45,50,55,60,65,70,75,80,85,90,95,100], "labelExpr": "datum.value % 10 === 0 ? datum.label : ''", "title": null}},
                     "y": {"field": "n", "type": "quantitative", "scale": {"type": "log", "domain": [1, 1000000]}, "axis": {"values": [1,10,100,1000,10000,100000,1000000], "format": "d", "title": null}},
                     "color": {"field": "tool", "type": "nominal", "scale": {"domain": ["TRF","Mreps","Sputnik","STAR","RM"], "range": ["#000000","#000000","#808080","#808080","#000000"]}, "legend": {"title": null, "labelExpr": "datum.label === 'TRF' ? 'TRF {2,7,7,20}' : datum.label === 'Mreps' ? 'Mreps {1}' : datum.label === 'Sputnik' ? 'Sputnik {1,6,7}' : datum.label === 'RM' ? 'RepeatMasker' : datum.label"}},
                     "strokeDash": {"field": "tool", "type": "nominal", "scale": {"domain": ["TRF","Mreps","Sputnik","STAR","RM"], "range": [[1,0],[1,0],[3,2],[1,0],[3,2]]}, "legend": {"title": null, "labelExpr": "datum.label === 'TRF' ? 'TRF {2,7,7,20}' : datum.label === 'Mreps' ? 'Mreps {1}' : datum.label === 'Sputnik' ? 'Sputnik {1,6,7}' : datum.label === 'RM' ? 'RepeatMasker' : datum.label"}},
                     "strokeWidth": {"field": "tool", "type": "nominal", "scale": {"type": "ordinal", "domain": ["TRF","Mreps","Sputnik","STAR","RM"], "range": [2.5,1,1,1,1]}, "legend": {"title": null, "labelExpr": "datum.label === 'TRF' ? 'TRF {2,7,7,20}' : datum.label === 'Mreps' ? 'Mreps {1}' : datum.label === 'Sputnik' ? 'Sputnik {1,6,7}' : datum.label === 'RM' ? 'RepeatMasker' : datum.label"}}
                   }},
                  {"data": {"values": [{"label": "dinucleotides"}]}, "mark": {"type": "text", "align": "right", "baseline": "middle", "fontSize": 19, "fontWeight": "bold"},
                   "encoding": {"x": {"datum": 97.8}, "y": {"datum": 436000}, "text": {"field": "label"}}}
                ]},
                {"data": {"values": [{"rep": 0}, {"rep": 50}]}, "mark": {"type": "point", "opacity": 0},
                 "encoding": {"x": {"field": "rep", "type": "quantitative", "scale": {"domain": [0, 50], "nice": false}, "axis": {"orient": "top", "values": [0,2,4,6,8,10,12,14,16,18,20,22,24,26,28,30,32,34,36,38,40,42,44,46,48,50], "labelExpr": "datum.value % 4 === 0 ? datum.label : ''", "title": "Length (repeat)", "titlePadding": 12}}}}
              ],
              "resolve": {"scale": {"x": "independent"}}
            }
          ],
          "spacing": 44
        },
        {
          "hconcat": [
            {
              "width": 472, "height": 286,
              "layer": [
                {"layer": [
                  {"data": {"name": "tri"}, "mark": {"type": "line", "clip": true, "invalid": "break-paths-filter-domains"},
                   "encoding": {
                     "x": {"field": "bp", "type": "quantitative", "scale": {"domain": [0, 100], "nice": false}, "axis": {"values": [0,5,10,15,20,25,30,35,40,45,50,55,60,65,70,75,80,85,90,95,100], "labelExpr": "datum.value % 10 === 0 ? datum.label : ''", "title": null}},
                     "y": {"field": "n", "type": "quantitative", "scale": {"type": "log", "domain": [1, 1000000]}, "axis": {"values": [1,10,100,1000,10000,100000,1000000], "format": "d", "title": "Number of detections"}},
                     "color": {"field": "tool", "type": "nominal", "scale": {"domain": ["TRF","Mreps","Sputnik","STAR","RM"], "range": ["#000000","#000000","#808080","#808080","#000000"]}, "legend": {"title": null, "labelExpr": "datum.label === 'TRF' ? 'TRF {2,7,7,20}' : datum.label === 'Mreps' ? 'Mreps {1}' : datum.label === 'Sputnik' ? 'Sputnik {1,6,7}' : datum.label === 'RM' ? 'RepeatMasker' : datum.label"}},
                     "strokeDash": {"field": "tool", "type": "nominal", "scale": {"domain": ["TRF","Mreps","Sputnik","STAR","RM"], "range": [[1,0],[1,0],[3,2],[1,0],[3,2]]}, "legend": {"title": null, "labelExpr": "datum.label === 'TRF' ? 'TRF {2,7,7,20}' : datum.label === 'Mreps' ? 'Mreps {1}' : datum.label === 'Sputnik' ? 'Sputnik {1,6,7}' : datum.label === 'RM' ? 'RepeatMasker' : datum.label"}},
                     "strokeWidth": {"field": "tool", "type": "nominal", "scale": {"type": "ordinal", "domain": ["TRF","Mreps","Sputnik","STAR","RM"], "range": [2.5,1,1,1,1]}, "legend": {"title": null, "labelExpr": "datum.label === 'TRF' ? 'TRF {2,7,7,20}' : datum.label === 'Mreps' ? 'Mreps {1}' : datum.label === 'Sputnik' ? 'Sputnik {1,6,7}' : datum.label === 'RM' ? 'RepeatMasker' : datum.label"}}
                   }},
                  {"data": {"values": [{"label": "trinucleotides"}]}, "mark": {"type": "text", "align": "right", "baseline": "middle", "fontSize": 19, "fontWeight": "bold"},
                   "encoding": {"x": {"datum": 97.8}, "y": {"datum": 380000}, "text": {"field": "label"}}}
                ]},
                {"data": {"values": [{"rep": 0}, {"rep": 33.333}]}, "mark": {"type": "point", "opacity": 0},
                 "encoding": {"x": {"field": "rep", "type": "quantitative", "scale": {"domain": [0, 33.333], "nice": false}, "axis": {"orient": "top", "values": [0,2,4,6,8,10,12,14,16,18,20,22,24,26,28,30,32], "labelExpr": "datum.value % 4 === 0 ? datum.label : ''", "title": null}}}}
              ],
              "resolve": {"scale": {"x": "independent"}}
            },
            {
              "width": 472, "height": 286,
              "layer": [
                {"layer": [
                  {"data": {"name": "tetra"}, "mark": {"type": "line", "clip": true, "invalid": "break-paths-filter-domains"},
                   "encoding": {
                     "x": {"field": "bp", "type": "quantitative", "scale": {"domain": [0, 100], "nice": false}, "axis": {"values": [0,5,10,15,20,25,30,35,40,45,50,55,60,65,70,75,80,85,90,95,100], "labelExpr": "datum.value % 10 === 0 ? datum.label : ''", "title": null}},
                     "y": {"field": "n", "type": "quantitative", "scale": {"type": "log", "domain": [1, 1000000]}, "axis": {"values": [1,10,100,1000,10000,100000,1000000], "format": "d", "title": null}},
                     "color": {"field": "tool", "type": "nominal", "scale": {"domain": ["TRF","Mreps","Sputnik","STAR","RM"], "range": ["#000000","#000000","#808080","#808080","#000000"]}, "legend": {"title": null, "labelExpr": "datum.label === 'TRF' ? 'TRF {2,7,7,20}' : datum.label === 'Mreps' ? 'Mreps {1}' : datum.label === 'Sputnik' ? 'Sputnik {1,6,7}' : datum.label === 'RM' ? 'RepeatMasker' : datum.label"}},
                     "strokeDash": {"field": "tool", "type": "nominal", "scale": {"domain": ["TRF","Mreps","Sputnik","STAR","RM"], "range": [[1,0],[1,0],[3,2],[1,0],[3,2]]}, "legend": {"title": null, "labelExpr": "datum.label === 'TRF' ? 'TRF {2,7,7,20}' : datum.label === 'Mreps' ? 'Mreps {1}' : datum.label === 'Sputnik' ? 'Sputnik {1,6,7}' : datum.label === 'RM' ? 'RepeatMasker' : datum.label"}},
                     "strokeWidth": {"field": "tool", "type": "nominal", "scale": {"type": "ordinal", "domain": ["TRF","Mreps","Sputnik","STAR","RM"], "range": [2.5,1,1,1,1]}, "legend": {"title": null, "labelExpr": "datum.label === 'TRF' ? 'TRF {2,7,7,20}' : datum.label === 'Mreps' ? 'Mreps {1}' : datum.label === 'Sputnik' ? 'Sputnik {1,6,7}' : datum.label === 'RM' ? 'RepeatMasker' : datum.label"}}
                   }},
                  {"data": {"values": [{"label": "tetranucleotides"}]}, "mark": {"type": "text", "align": "right", "baseline": "middle", "fontSize": 19, "fontWeight": "bold"},
                   "encoding": {"x": {"datum": 98}, "y": {"datum": 417000}, "text": {"field": "label"}}}
                ]},
                {"data": {"values": [{"rep": 0}, {"rep": 25}]}, "mark": {"type": "point", "opacity": 0},
                 "encoding": {"x": {"field": "rep", "type": "quantitative", "scale": {"domain": [0, 25], "nice": false}, "axis": {"orient": "top", "values": [0,2,4,6,8,10,12,14,16,18,20,22,24], "labelExpr": "datum.value % 4 === 0 ? datum.label : ''", "title": null}}}}
              ],
              "resolve": {"scale": {"x": "independent"}}
            }
          ],
          "spacing": 44
        }
      ],
      "spacing": 36
    },
    {
      "hconcat": [
        {
          "width": 472, "height": 286,
          "layer": [
            {"layer": [
              {"data": {"name": "penta"}, "mark": {"type": "line", "clip": true, "invalid": "break-paths-filter-domains"},
               "encoding": {
                 "x": {"field": "bp", "type": "quantitative", "scale": {"domain": [0, 100], "nice": false}, "axis": {"values": [0,5,10,15,20,25,30,35,40,45,50,55,60,65,70,75,80,85,90,95,100], "labelExpr": "datum.value % 10 === 0 ? datum.label : ''", "title": "Length (bp)", "titlePadding": 11}},
                 "y": {"field": "n", "type": "quantitative", "scale": {"type": "log", "domain": [1, 1000000]}, "axis": {"values": [1,10,100,1000,10000,100000,1000000], "format": "d", "title": "Number of detections"}},
                 "color": {"field": "tool", "type": "nominal", "scale": {"domain": ["TRF","Mreps","Sputnik","STAR","RM"], "range": ["#000000","#000000","#808080","#808080","#000000"]}, "legend": {"title": null, "labelExpr": "datum.label === 'TRF' ? 'TRF {2,7,7,20}' : datum.label === 'Mreps' ? 'Mreps {1}' : datum.label === 'Sputnik' ? 'Sputnik {1,6,7}' : datum.label === 'RM' ? 'RepeatMasker' : datum.label"}},
                 "strokeDash": {"field": "tool", "type": "nominal", "scale": {"domain": ["TRF","Mreps","Sputnik","STAR","RM"], "range": [[1,0],[1,0],[3,2],[1,0],[3,2]]}, "legend": {"title": null, "labelExpr": "datum.label === 'TRF' ? 'TRF {2,7,7,20}' : datum.label === 'Mreps' ? 'Mreps {1}' : datum.label === 'Sputnik' ? 'Sputnik {1,6,7}' : datum.label === 'RM' ? 'RepeatMasker' : datum.label"}},
                 "strokeWidth": {"field": "tool", "type": "nominal", "scale": {"type": "ordinal", "domain": ["TRF","Mreps","Sputnik","STAR","RM"], "range": [2.5,1,1,1,1]}, "legend": {"title": null, "labelExpr": "datum.label === 'TRF' ? 'TRF {2,7,7,20}' : datum.label === 'Mreps' ? 'Mreps {1}' : datum.label === 'Sputnik' ? 'Sputnik {1,6,7}' : datum.label === 'RM' ? 'RepeatMasker' : datum.label"}}
               }},
              {"data": {"values": [{"label": "pentanucleotides"}]}, "mark": {"type": "text", "align": "right", "baseline": "middle", "fontSize": 19, "fontWeight": "bold"},
               "encoding": {"x": {"datum": 98.3}, "y": {"datum": 457000}, "text": {"field": "label"}}}
            ]},
            {"data": {"values": [{"rep": 0}, {"rep": 20}]}, "mark": {"type": "point", "opacity": 0},
             "encoding": {"x": {"field": "rep", "type": "quantitative", "scale": {"domain": [0, 20], "nice": false}, "axis": {"orient": "top", "values": [0,1,2,3,4,5,6,7,8,9,10,11,12,13,14,15,16,17,18,19,20], "labelExpr": "datum.value % 2 === 0 ? datum.label : ''", "title": null}}}}
          ],
          "resolve": {"scale": {"x": "independent"}}
        },
        {
          "width": 472, "height": 286,
          "layer": [
            {"layer": [
              {"data": {"name": "hexa"}, "mark": {"type": "line", "clip": true, "invalid": "break-paths-filter-domains"},
               "encoding": {
                 "x": {"field": "bp", "type": "quantitative", "scale": {"domain": [0, 100], "nice": false}, "axis": {"values": [0,5,10,15,20,25,30,35,40,45,50,55,60,65,70,75,80,85,90,95,100], "labelExpr": "datum.value % 10 === 0 ? datum.label : ''", "title": "Length (bp)", "titlePadding": 11}},
                 "y": {"field": "n", "type": "quantitative", "scale": {"type": "log", "domain": [1, 1000000]}, "axis": {"values": [1,10,100,1000,10000,100000,1000000], "format": "d", "title": null}},
                 "color": {"field": "tool", "type": "nominal", "scale": {"domain": ["TRF","Mreps","Sputnik","STAR","RM"], "range": ["#000000","#000000","#808080","#808080","#000000"]}, "legend": {"title": null, "labelExpr": "datum.label === 'TRF' ? 'TRF {2,7,7,20}' : datum.label === 'Mreps' ? 'Mreps {1}' : datum.label === 'Sputnik' ? 'Sputnik {1,6,7}' : datum.label === 'RM' ? 'RepeatMasker' : datum.label"}},
                 "strokeDash": {"field": "tool", "type": "nominal", "scale": {"domain": ["TRF","Mreps","Sputnik","STAR","RM"], "range": [[1,0],[1,0],[3,2],[1,0],[3,2]]}, "legend": {"title": null, "labelExpr": "datum.label === 'TRF' ? 'TRF {2,7,7,20}' : datum.label === 'Mreps' ? 'Mreps {1}' : datum.label === 'Sputnik' ? 'Sputnik {1,6,7}' : datum.label === 'RM' ? 'RepeatMasker' : datum.label"}},
                 "strokeWidth": {"field": "tool", "type": "nominal", "scale": {"type": "ordinal", "domain": ["TRF","Mreps","Sputnik","STAR","RM"], "range": [2.5,1,1,1,1]}, "legend": {"title": null, "labelExpr": "datum.label === 'TRF' ? 'TRF {2,7,7,20}' : datum.label === 'Mreps' ? 'Mreps {1}' : datum.label === 'Sputnik' ? 'Sputnik {1,6,7}' : datum.label === 'RM' ? 'RepeatMasker' : datum.label"}}
               }},
              {"data": {"values": [{"label": "hexanucleotides"}]}, "mark": {"type": "text", "align": "right", "baseline": "middle", "fontSize": 19, "fontWeight": "bold"},
               "encoding": {"x": {"datum": 98}, "y": {"datum": 417000}, "text": {"field": "label"}}}
            ]},
            {"data": {"values": [{"rep": 0}, {"rep": 16.667}]}, "mark": {"type": "point", "opacity": 0},
             "encoding": {"x": {"field": "rep", "type": "quantitative", "scale": {"domain": [0, 16.667], "nice": false}, "axis": {"orient": "top", "values": [0,1,2,3,4,5,6,7,8,9,10,11,12,13,14,15,16], "labelExpr": "datum.value % 2 === 0 ? datum.label : ''", "title": null}}}}
          ],
          "resolve": {"scale": {"x": "independent"}}
        }
      ],
      "spacing": 44
    }
  ],
  "spacing": 52,
  "config": {
    "font": "Liberation Sans",
    "view": {"stroke": "#808080", "strokeWidth": 1},
    "axis": {
      "grid": false,
      "domainColor": "#000000",
      "tickColor": "#000000",
      "labelColor": "#000000",
      "labelFont": "Liberation Sans",
      "labelFontSize": 10,
      "labelPadding": 2,
      "tickSize": 4,
      "titleFont": "Liberation Sans",
      "titleFontSize": 18,
      "titleFontWeight": "normal",
      "titleColor": "#000000"
    },
    "axisX": {"labelAngle": -45, "titlePadding": 8},
    "axisY": {"titlePadding": 5},
    "legend": {
      "orient": "none",
      "legendX": 1072,
      "legendY": -49,
      "padding": 0,
      "labelFont": "Liberation Sans",
      "labelFontSize": 19,
      "labelColor": "#000000",
      "labelOffset": 6,
      "symbolType": "stroke",
      "symbolSize": 1150,
      "rowPadding": 0
    },
    "text": {"font": "Liberation Sans", "color": "#000000"}
  }
}
